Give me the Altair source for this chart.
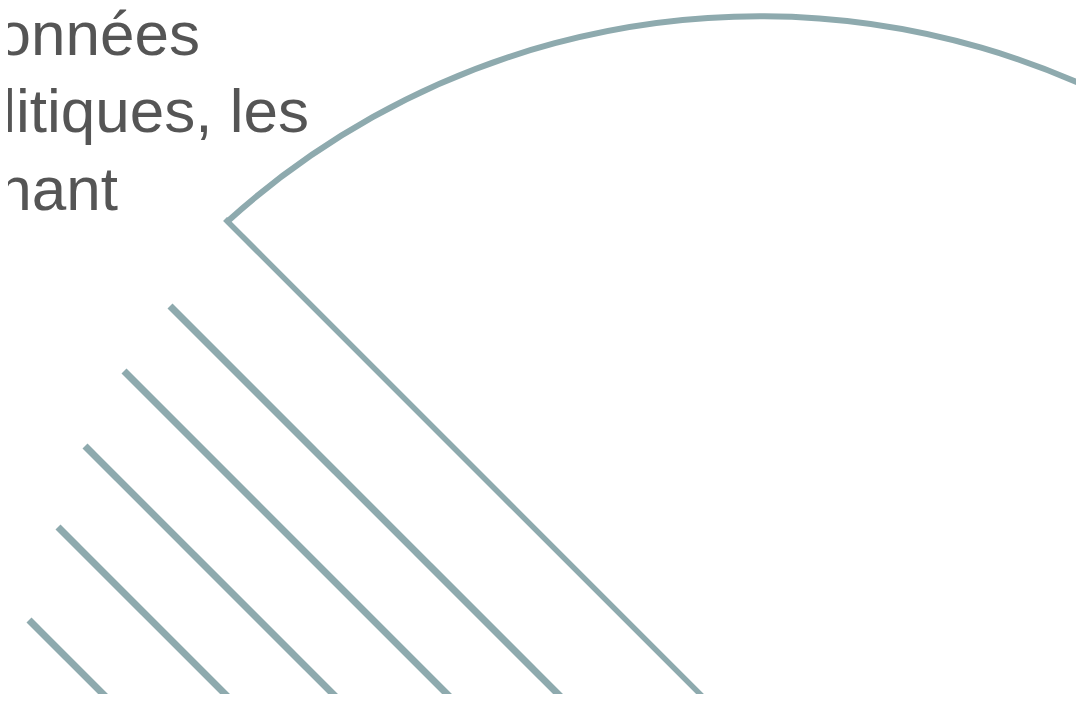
import altair as alt
import pandas as pd

# ---- data (screen-space units, y downward) ----
# visible tails of a wrapped French paragraph
text_lines = ["données", "politiques, les", "concernant"]
text_right = [200, 309, 118]
text_base = [55, 132, 210]

# large circular outline
arc_center_x = [760]
arc_center_y = [810]
arc_radius = 794
arc_theta_start = [-0.735]
arc_theta_end = [1.3]

# straight outline edge (45 degrees, down-right)
edge_x = [227]
edge_y = [221]

# hatch strokes (45 degrees, down-right)
hatch_x = [170, 124, 85, 58, 29]
hatch_y = [306, 371, 446, 527, 620]

stroke_len = 620
LINE_COLOR = "#8eaaae"
TEXT_COLOR = "#555555"

W, H = 1068, 686
xs = alt.Scale(domain=[8, 8 + W], nice=False, zero=False)
ys = alt.Scale(domain=[8, 8 + H], nice=False, zero=False, reverse=True)

arc_df = pd.DataFrame({"x": arc_center_x, "y": arc_center_y,
                       "t": arc_theta_start, "t2": arc_theta_end})
edge_df = pd.DataFrame({"x": edge_x, "y": edge_y})
edge_df["x2"] = edge_df["x"] + stroke_len
edge_df["y2"] = edge_df["y"] + stroke_len
hatch_df = pd.DataFrame({"x": hatch_x, "y": hatch_y})
hatch_df["x2"] = hatch_df["x"] + stroke_len
hatch_df["y2"] = hatch_df["y"] + stroke_len
text_df = pd.DataFrame({"x": text_right, "y": text_base, "label": text_lines})

arc = alt.Chart(arc_df).mark_arc(
    filled=False, stroke=LINE_COLOR, strokeWidth=5.5,
    radius=arc_radius, radius2=arc_radius - 0.5, clip=True
).encode(
    x=alt.X("x:Q", scale=xs, axis=None),
    y=alt.Y("y:Q", scale=ys, axis=None),
    theta=alt.Theta("t:Q", scale=None),
    theta2=alt.Theta2("t2"),
)

edge = alt.Chart(edge_df).mark_rule(
    color=LINE_COLOR, strokeWidth=5.5, strokeCap="square", clip=True
).encode(
    x=alt.X("x:Q", scale=xs, axis=None),
    y=alt.Y("y:Q", scale=ys, axis=None),
    x2="x2", y2="y2",
)

hatch = alt.Chart(hatch_df).mark_rule(
    color=LINE_COLOR, strokeWidth=7, strokeCap="butt", clip=True
).encode(
    x=alt.X("x:Q", scale=xs, axis=None),
    y=alt.Y("y:Q", scale=ys, axis=None),
    x2="x2", y2="y2",
)

text = alt.Chart(text_df).mark_text(
    align="right", baseline="alphabetic", font="Liberation Sans",
    fontSize=62, color=TEXT_COLOR, clip=True
).encode(
    x=alt.X("x:Q", scale=xs, axis=None),
    y=alt.Y("y:Q", scale=ys, axis=None),
    text="label:N",
)

chart = alt.layer(arc, edge, hatch, text).properties(
    width=W, height=H,
    autosize=alt.AutoSizeParams(type="none"),
    padding=0,
).configure_view(stroke=None)

chart.save("out.html", embed_options={"renderer": "svg", "actions": False})
